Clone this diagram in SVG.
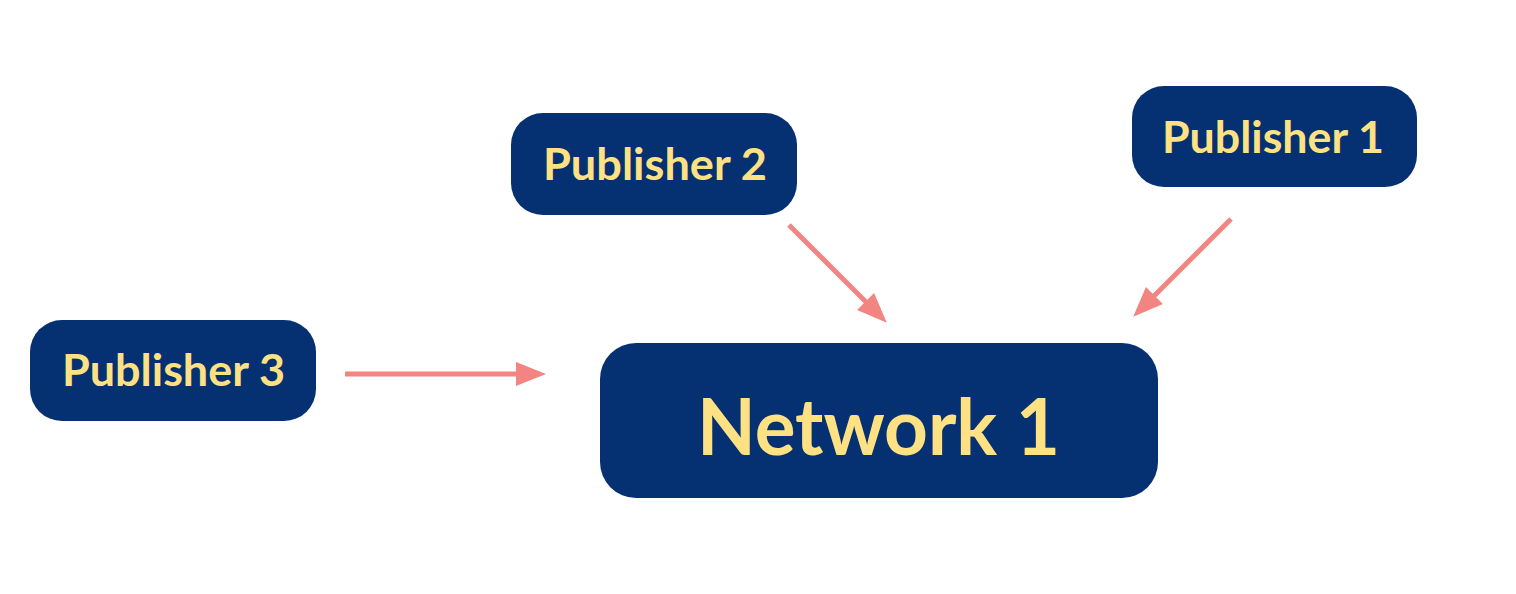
<svg xmlns="http://www.w3.org/2000/svg" width="1516" height="594" viewBox="0 0 1516 594">
<style>
.box{fill:#053172;}
.lbl{font-family:Lato,"Open Sans","Noto Sans",sans-serif;font-weight:700;fill:#FDE183;text-anchor:middle;}
.pub{font-size:44px;}
.net{font-size:79px;}
.conn{stroke:#F28482;stroke-width:5;fill:none;}
</style>
<defs>
<marker id="ah" markerUnits="userSpaceOnUse" markerWidth="32" markerHeight="26" refX="2" refY="12" orient="auto" overflow="visible">
<path d="M0,0 L30,12 L0,24 Z" fill="#F28482"/>
</marker>
</defs>
<rect width="1516" height="594" fill="#ffffff"/>
<g id="connectors">
<line class="conn" x1="345" y1="374" x2="518" y2="374" marker-end="url(#ah)"/>
<line class="conn" x1="789" y1="225" x2="867" y2="303" marker-end="url(#ah)"/>
<line class="conn" x1="1231" y1="219" x2="1153" y2="297" marker-end="url(#ah)"/>
</g>
<g id="publisher2">
<rect class="box" x="511" y="113" width="286" height="102" rx="32"/>
<text class="lbl pub" x="655" y="180" textLength="224" lengthAdjust="spacingAndGlyphs">Publisher 2</text>
</g>
<g id="publisher1">
<rect class="box" x="1132" y="86" width="285" height="101" rx="32"/>
<text class="lbl pub" x="1273" y="153" textLength="222" lengthAdjust="spacingAndGlyphs">Publisher 1</text>
</g>
<g id="publisher3">
<rect class="box" x="30" y="320" width="286" height="101" rx="32"/>
<text class="lbl pub" x="173.5" y="386" textLength="223" lengthAdjust="spacingAndGlyphs">Publisher 3</text>
</g>
<g id="network1">
<rect class="box" x="600" y="343" width="558" height="155" rx="36"/>
<text class="lbl net" x="878.5" y="455" textLength="363" lengthAdjust="spacingAndGlyphs">Network 1</text>
</g>
</svg>
